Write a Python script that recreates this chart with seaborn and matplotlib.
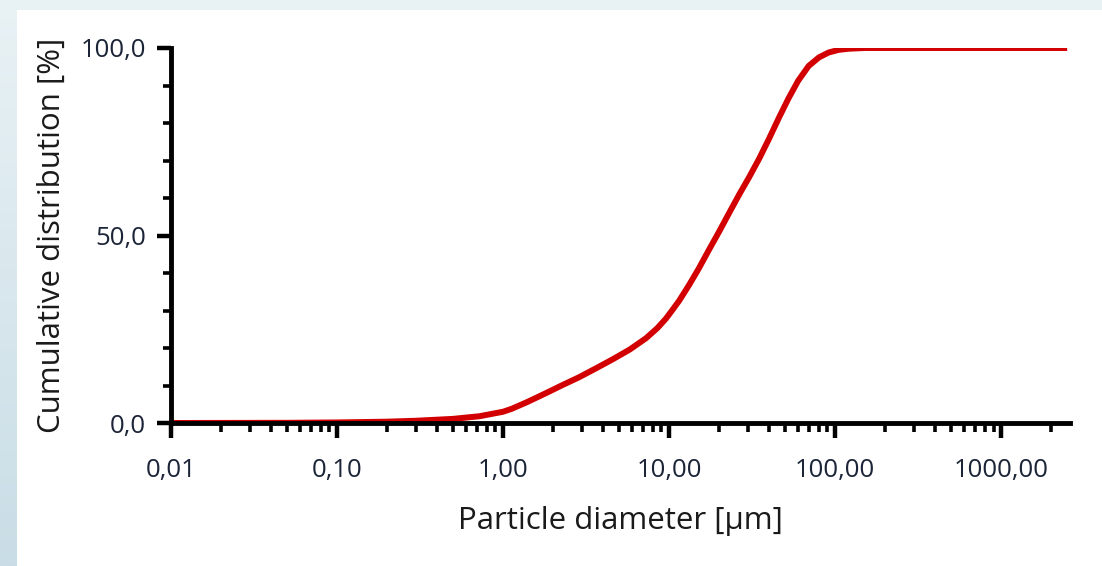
import numpy as np
import pandas as pd
import seaborn as sns
import matplotlib.pyplot as plt
from matplotlib.patches import Rectangle
from matplotlib.ticker import FixedLocator, MultipleLocator, FuncFormatter, LogLocator

# particle size distribution (cumulative)
diameter = [0.01, 0.05, 0.1, 0.2, 0.3, 0.5, 0.72, 1.0, 1.13, 1.4, 1.82, 2.3, 2.87,
            3.6, 4.54, 5.8, 7.26, 8.5, 9.56, 10.5, 11.5, 13.2, 15.1, 17.4, 20.0,
            23.0, 26.5, 30.4, 34.9, 39.9, 46.0, 52.6, 60.0, 69.3, 80.0, 91.5,
            105.0, 120.0, 150.0, 2500.0]
cumulative = [0.0, 0.05, 0.15, 0.35, 0.6, 1.1, 1.8, 3.0, 3.8, 5.6, 8.0, 10.2, 12.2,
              14.5, 16.9, 19.6, 22.6, 25.3, 27.8, 30.2, 32.6, 36.8, 41.2, 46.2, 51.0,
              56.0, 61.0, 65.6, 70.5, 75.7, 81.5, 86.7, 91.3, 95.2, 97.5, 98.8,
              99.5, 99.8, 100.0, 100.0]
x_ticks = [0.01, 0.1, 1, 10, 100, 1000]
y_ticks = [0, 50, 100]

df = pd.DataFrame({'d': diameter, 'q': cumulative})

sns.set_style('white')
plt.rcParams['font.family'] = ['Open Sans', 'DejaVu Sans']

fig = plt.figure(figsize=(11.02, 5.66), dpi=100)
fig.patch.set_facecolor('#dbe9ef')

# light blue frame with a gradient on the left
bg = fig.add_axes([0, 0, 1, 1], zorder=-10)
grad = np.linspace(0, 1, 256).reshape(-1, 1)
bg.imshow(grad, aspect='auto', extent=[0, 1, 0, 1], origin='upper',
          cmap=sns.blend_palette(['#e9f2f5', '#c9dde6'], as_cmap=True))
bg.axis('off')
fig.patches.append(Rectangle((17 / 1102, 0), 1, 1 - 10 / 566, transform=fig.transFigure,
                             facecolor='white', edgecolor='none', zorder=-5))

ax = fig.add_axes([171 / 1102, 1 - 423 / 566, (1070 - 171) / 1102, (423 - 48) / 566])
ax.patch.set_alpha(0)

sns.lineplot(data=df, x='d', y='q', ax=ax, color='#d20000', linewidth=4.3,
             solid_joinstyle='round', solid_capstyle='butt')

ax.set_xscale('log')
ax.set_xlim(0.01, 2600)
ax.set_ylim(0, 100)

ax.xaxis.set_major_locator(FixedLocator(x_ticks))
ax.xaxis.set_minor_locator(LogLocator(base=10, subs=np.arange(2, 10)))
ax.xaxis.set_major_formatter(FuncFormatter(lambda v, p: f'{v:.2f}'.replace('.', ',')))
ax.yaxis.set_major_locator(FixedLocator(y_ticks))
ax.yaxis.set_minor_locator(MultipleLocator(10))
ax.yaxis.set_major_formatter(FuncFormatter(lambda v, p: f'{v:.1f}'.replace('.', ',')))

for side in ['top', 'right']:
    ax.spines[side].set_visible(False)
for side in ['left', 'bottom']:
    ax.spines[side].set_linewidth(3.5)
    ax.spines[side].set_color('black')

ax.tick_params(axis='x', which='major', direction='out', length=11, width=3.2,
               color='black', labelsize=18.5, labelcolor='#1c2438', pad=14, bottom=True)
ax.tick_params(axis='y', which='major', direction='out', length=10, width=3.2,
               color='black', labelsize=18.5, labelcolor='#1c2438', pad=8, left=True)
ax.tick_params(axis='x', which='minor', direction='out', length=6.5, width=2.6,
               color='black', bottom=True)
ax.tick_params(axis='y', which='minor', direction='out', length=5.5, width=2.6,
               color='black', left=True)

ax.set_xlabel('Particle diameter [µm]', fontsize=22.5, color='#1a1a1a', labelpad=17)
ax.set_ylabel('Cumulative distribution [%]', fontsize=22.5, color='#1a1a1a', labelpad=10)

fig.savefig('out.png', dpi=100)
